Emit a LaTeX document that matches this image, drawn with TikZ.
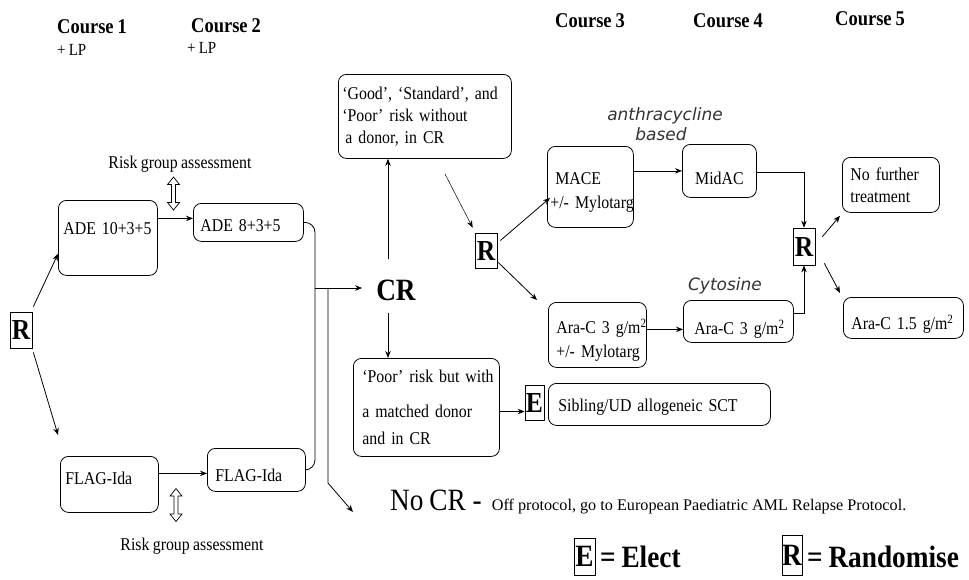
\documentclass[tikz,border=0pt]{standalone}
\usepackage{fontspec}
\setmainfont{Liberation Serif}[FakeStretch=0.88, WordSpace=0.85]
\newfontfamily\plainserif{Liberation Serif}
\newfontfamily\handfont{DejaVu Sans}
\usetikzlibrary{arrows.meta,calc}
\tikzset{
  dbl/.pic={\draw[line width=0.7pt] (0,-16.5) -- (6,-9) -- (2,-9) -- (2,9) -- (6,9) -- (0,16.5) -- (-6,9) -- (-2,9) -- (-2,-9) -- (-6,-9) -- cycle;}
}
\newcommand\tl[2]{\hspace*{#1pt}\mbox{#2}}
\begin{document}
\begin{tikzpicture}[x=1pt,y=-1pt,
  every node/.style={inner sep=0pt},
  body/.style={font=\fontsize{18}{23}\selectfont},
  box/.style={draw, rounded corners=8pt, line width=0.8pt, anchor=north west, align=left,
              inner xsep=0pt, inner ysep=2pt, font=\fontsize{18}{23}\selectfont},
  lbox/.style={draw, line width=0.7pt, inner sep=0pt, font=\bfseries\fontsize{29}{29}\selectfont},
  arr/.style={line width=0.8pt, -{Stealth[length=7pt,width=5.5pt]}},
  ln/.style={line width=0.8pt},
  head/.style={anchor=base west, font=\bfseries\fontsize{21}{21}\selectfont},
  lp/.style={anchor=base west, font=\fontsize{17}{17}\selectfont},
  legtext/.style={anchor=base west, font=\bfseries\fontsize{31}{31}\selectfont},
  hand/.style={font=\handfont\itshape\fontsize{17}{17}\selectfont, text=black!80}
]
\useasboundingbox (0,0) rectangle (969,579);

% headers
\node[head] (c1) at (57,33) {Course 1};
\node[lp] (lp1) at (57,55) {+ LP};
\node[head] (c2) at (191,32) {Course 2};
\node[lp] (lp2) at (187,53) {+ LP};
\node[head] (c3) at (555,27) {Course 3};
\node[head] (c4) at (693,27) {Course 4};
\node[head] (c5) at (835,25) {Course 5};

% risk group assessment
\node[body, anchor=base] (rg1) at (180,168) {Risk group assessment};
\pic at (173.5,193.5) {dbl};
\node[body, anchor=base] (rg2) at (192,550) {Risk group assessment};
\pic at (176,505) {dbl};

% boxes
\node[box, text width=99pt, minimum height=75pt, text height=12pt, text depth=19pt] (ade1) at (58,200) {\tl{5}{ADE 10+3+5}};
\node[box, text width=110pt, minimum height=38pt, text height=22pt, text depth=4pt] (ade2) at (193,203) {\tl{7}{ADE 8+3+5}};
\node[box, text width=98pt, minimum height=56pt, text height=12pt, text depth=12pt] (flag1) at (60,456) {\tl{5}{FLAG-Ida}};
\node[box, text width=98pt, minimum height=43pt, text height=27pt, text depth=4pt] (flag2) at (207,448) {\tl{8}{FLAG-Ida}};
\node[box, text width=173pt, minimum height=84pt, font=\fontsize{18}{22}\selectfont] (good) at (338,74)
  {\tl{4}{`Good', `Standard', and}\\\tl{4}{`Poor' risk without}\\\tl{7}{a donor, in CR}};
\node[box, text width=146pt, minimum height=98pt, font=\fontsize{18}{27}\selectfont] (poor) at (353,358)
  {\tl{9}{`Poor' risk but with}\\[8pt]\tl{9}{a matched donor}\\\tl{9}{and in CR}};
\node[box, text width=86pt, minimum height=81pt, font=\fontsize{18}{24}\selectfont] (mace) at (547,146)
  {\rule{0pt}{24pt}\tl{8}{MACE}\\\tl{3}{+/- Mylotarg}};
\node[box, text width=98pt, minimum height=65pt, font=\fontsize{18}{24}\selectfont] (ara1) at (548,302)
  {\rule{0pt}{25pt}\tl{8}{Ara-C 3 g/m\textsuperscript{2}}\\\tl{8}{+/- Mylotarg}};
\node[box, align=center, text width=74pt, minimum height=53pt, text height=31pt, text depth=4pt] (midac) at (682,144) {MidAC};
\node[box, text width=110pt, minimum height=42pt, text height=30pt, text depth=4pt] (ara2) at (683,300) {\tl{11}{Ara-C 3 g/m\textsuperscript{2}}};
\node[box, text width=97pt, minimum height=55pt, font=\fontsize{18}{22}\selectfont] (nf) at (842,157) {\tl{8}{No further}\\\tl{8}{treatment}};
\node[box, text width=120pt, minimum height=41pt, text height=27pt, text depth=4pt] (ara3) at (843,297) {\tl{8}{Ara-C 1.5 g/m\textsuperscript{2}}};
\node[box, text width=222pt, minimum height=42pt, text height=18pt, text depth=4pt] (sib) at (548,383) {\tl{10}{Sibling/UD allogeneic SCT}};

% boxed letters
\node[lbox, minimum width=22pt, minimum height=36pt] (r1) at (21,330) {R};
\node[lbox, minimum width=22pt, minimum height=35pt] (r2) at (486,250.5) {R};
\node[lbox, minimum width=22pt, minimum height=37pt] (r3) at (804,246.5) {R};
\node[lbox, minimum width=19pt, minimum height=35pt] (e1) at (534.5,402.5) {E};

% CR
\node[font=\bfseries\fontsize{31}{31}\selectfont] (cr) at (396,290) {CR};
\node[anchor=base west, font=\fontsize{31}{31}\selectfont] (nocr) at (390,510)
  {No CR\hspace{7pt}-\hspace{10pt}{\plainserif\fontsize{16.2}{18}\selectfont Off protocol, go to European Paediatric AML Relapse Protocol.}};

% legend
\node[lbox, minimum width=21pt, minimum height=37pt, font=\bfseries\fontsize{31}{31}\selectfont] (le) at (584.5,556.5) {E};
\node[legtext] (lt1) at (600,567) {= Elect};
\node[lbox, minimum width=20pt, minimum height=40pt, font=\bfseries\fontsize{31}{31}\selectfont] (lr) at (792,555) {R};
\node[legtext] (lt2) at (807,567) {= Randomise};

% handwriting
\node[hand] (hw1) at (665,116) {anthracycline};
\node[hand] (hw2) at (661,134) {based};
\node[hand] (hw3) at (725,286) {Cytosine};

% connectors
\draw[arr] ($(r1.north east)+(1,-5)$) -- ($(ade1.south west)+(0,-22)$);
\draw[arr] ($(r1.south east)+(1,4)$) -- ($(flag1.north west)+(-2,-21)$);
\coordinate (a2in) at ($(ade2.west)+(0,-4)$);
\draw[arr] (ade1.east |- a2in) -- (a2in);
\coordinate (f2in) at ($(flag2.west)+(0,3.5)$);
\draw[arr] (flag1.east |- f2in) -- (f2in);
\coordinate (jx) at (315,288);
\draw[ln, rounded corners=10pt] (ade2.east) -| (jx) |- (flag2.east);
\coordinate (j2) at (328,288);
\coordinate (nk) at (328,483);
\draw[arr] (jx) -- ($(cr.west)+(-14,-2)$);
\draw[arr] (j2) -- (nk) -- ($(nocr.base west)+(-37,2)$);
\coordinate (crup) at ($(cr.north)+(-8,-20)$);
\draw[arr] (crup) -- (crup |- good.south);
\coordinate (crdn) at ($(cr.south)+(-8,12)$);
\draw[arr] (crdn) -- (crdn |- poor.north);
\draw[arr, line width=0.5pt] ($(good.south)+(20,15)$) -- ($(r2.north west)+(-2,-5)$);
\draw[arr] ($(r2.east)+(3,-10)$) -- ($(mace.west)+(3,11)$);
\draw[arr] ($(r2.east)+(1,12)$) -- ($(ara1.north west)+(-11,-2)$);
\draw[arr] (mace.east |- midac.west) -- (midac.west);
\coordinate (a2i) at ($(ara2.west)+(0,8)$);
\draw[arr] (ara1.east |- a2i) -- (a2i);
\draw[arr] ($(midac.east)+(0,1.5)$) -| (r3.north);
\draw[arr] ($(ara2.east)+(0,-8)$) -| (r3.south);
\draw[arr] ($(r3.north east)+(7,9)$) -- ($(nf.south west)+(-2,3)$);
\draw[arr] ($(r3.south east)+(9,-2)$) -- ($(ara3.north west)+(-3,-4)$);
\coordinate (ein) at ($(e1.west)+(0,9)$);
\draw[arr] (poor.east |- ein) -- (ein);
\end{tikzpicture}
\end{document}
